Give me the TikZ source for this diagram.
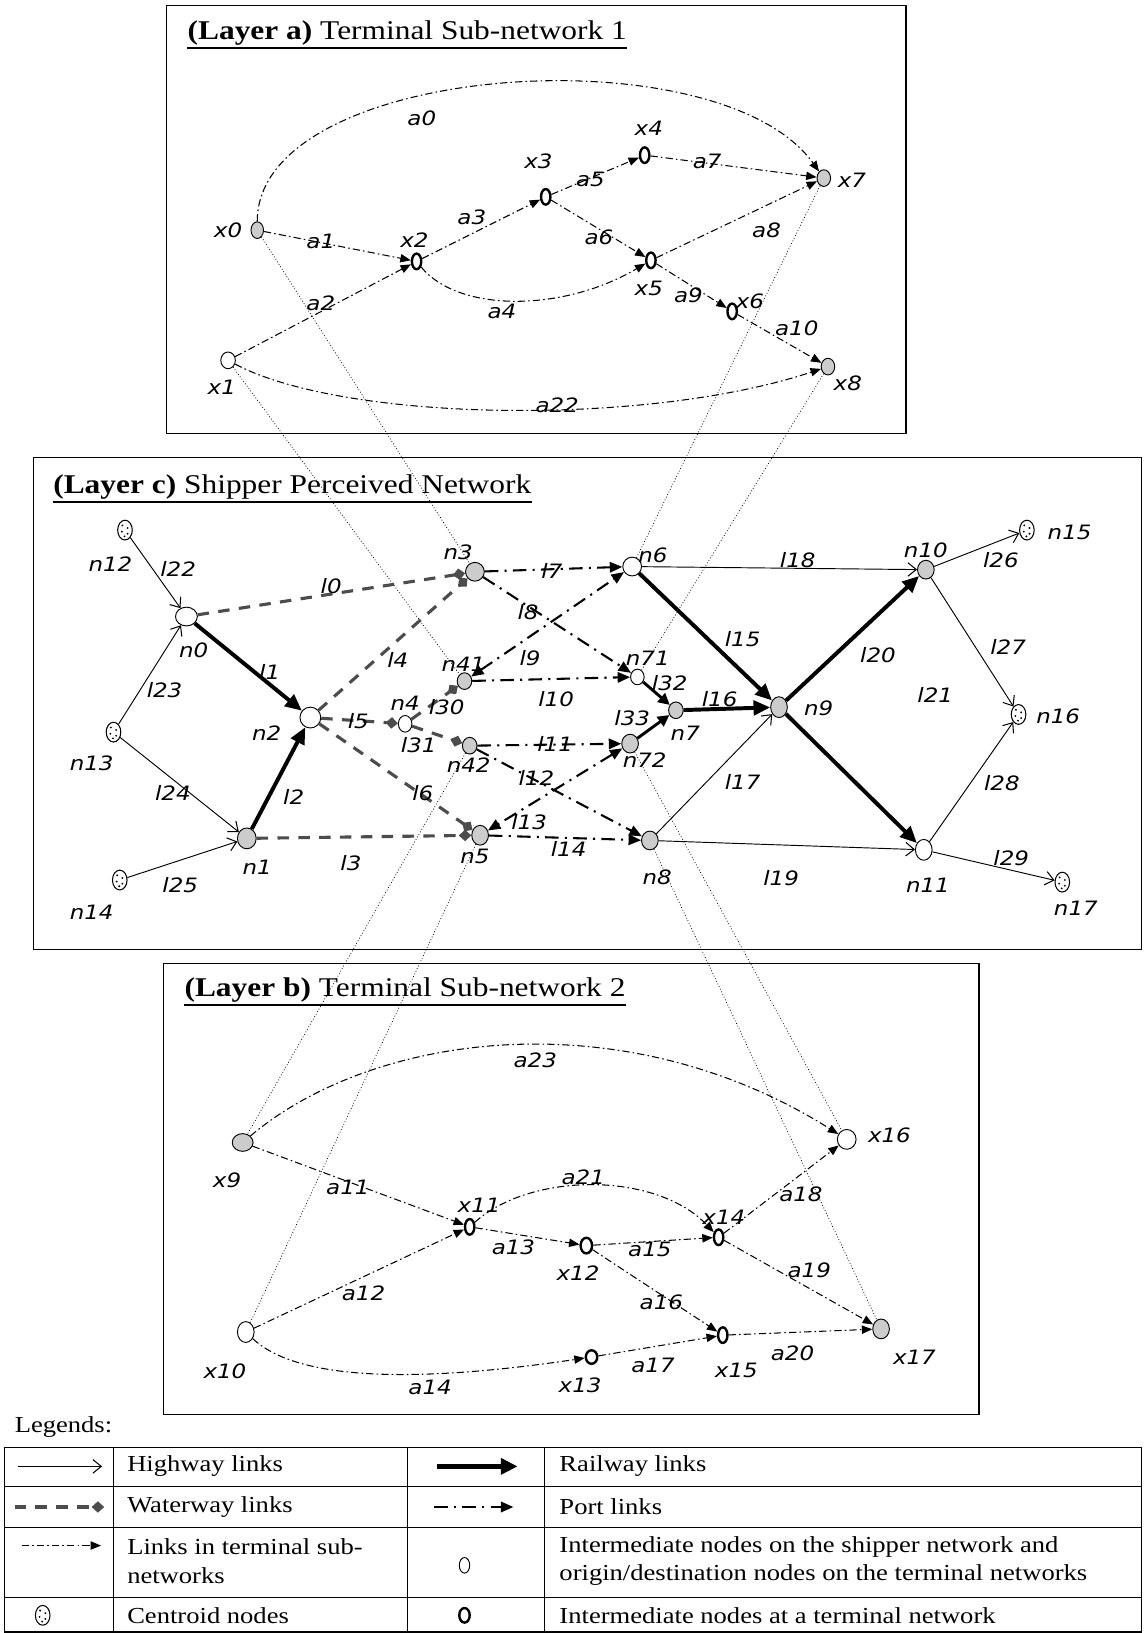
\documentclass[tikz,border=0pt]{standalone}
\usepackage{fontspec}
\setmainfont{Liberation Serif}[FakeStretch=1.16]
\newfontfamily\labfont{DejaVu Sans}[FakeStretch=1.16]
\usetikzlibrary{arrows.meta,shapes.geometric}
\tikzset{
  box/.style={draw, line width=1.2pt},
  wnode/.style={ellipse, draw, line width=0.9pt, fill=white, inner sep=0pt, minimum width=17pt, minimum height=18pt},
  gnode/.style={wnode, fill=black!20},
  tnode/.style={ellipse, draw, line width=2.3pt, fill=white, inner sep=0pt, minimum width=9pt, minimum height=15pt},
  cnode/.style={ellipse, draw, line width=1pt, fill=white, inner sep=0pt, minimum width=14pt, minimum height=19pt,
    path picture={
      \fill[black] (path picture bounding box.center) ++(-2.5,-4.5) circle (1pt);
      \fill[black] (path picture bounding box.center) ++(2.5,-2) circle (1pt);
      \fill[black] (path picture bounding box.center) ++(-3,1.5) circle (1pt);
      \fill[black] (path picture bounding box.center) ++(2.5,3.5) circle (1pt);
      \fill[black] (path picture bounding box.center) ++(-0.5,6) circle (1pt);
    }},
  lab/.style={font=\labfont\itshape\fontsize{19}{22}\selectfont, inner sep=0pt},
  ttl/.style={font=\fontsize{26}{30}\selectfont, inner sep=0pt, anchor=base west},
  legtxt/.style={font=\fontsize{22}{27}\selectfont, inner sep=0pt, anchor=west, align=left},
  uline/.style={line width=1.5pt},
  hw/.style={line width=0.9pt, -{Straight Barb[length=8pt,width=13pt,line width=1pt]}},
  rail/.style={line width=3.8pt, -{Triangle[length=16pt,width=14pt]}},
  railb/.style={line width=2.8pt, -{Triangle[length=11pt,width=11pt]}},
  water/.style={line width=3pt, black!70, dash pattern=on 11pt off 9pt, -{Diamond[length=12pt,width=11pt]}},
  port/.style={line width=2pt, dash pattern=on 13pt off 6pt on 2pt off 6pt, -{Triangle[length=12pt,width=10pt]}},
  portboth/.style={line width=2pt, dash pattern=on 13pt off 6pt on 2pt off 6pt,
    {Triangle[length=12pt,width=10pt]}-{Triangle[length=12pt,width=10pt]}},
  term/.style={line width=1pt, dash pattern=on 7pt off 3pt on 1.5pt off 3pt, -{Triangle[length=10pt,width=8pt]}},
  xlink/.style={line width=0.7pt, dash pattern=on 0.8pt off 2pt},
  gridline/.style={line width=1pt},
}
\begin{document}
\begin{tikzpicture}[x=1pt,y=-1pt]
\useasboundingbox (0,0) rectangle (1098,1568);

% ---------- boxes ----------
\draw[box] (160,5) rectangle (870,416);
\draw[box] (32,439) rectangle (1096,912);
\draw[box] (157,925) rectangle (940,1358);

% ---------- titles ----------
\node[ttl] (ta) at (180,38) {\textbf{(Layer a)} Terminal Sub-network 1};
\draw[uline] ([yshift=-8pt]ta.base west) -- ([yshift=-8pt]ta.base east);
\node[ttl] (tc) at (51,474) {\textbf{(Layer c)} Shipper Perceived Network};
\draw[uline] ([yshift=-8pt]tc.base west) -- ([yshift=-8pt]tc.base east);
\node[ttl] (tb) at (177,957) {\textbf{(Layer b)} Terminal Sub-network 2};
\draw[uline] ([yshift=-8pt]tb.base west) -- ([yshift=-8pt]tb.base east);

% ---------- layer a nodes ----------
\node[gnode, minimum width=12pt, minimum height=16pt] (x0) at (247,221) {};
\node[wnode, minimum width=14pt, minimum height=16pt] (x1) at (219,346) {};
\node[tnode] (x2) at (400,251) {};
\node[tnode] (x3) at (524,189) {};
\node[tnode] (x4) at (619,149) {};
\node[tnode] (x5) at (625,250) {};
\node[tnode] (x6) at (703,299) {};
\node[gnode, minimum width=13pt, minimum height=16pt] (x7) at (791,171) {};
\node[gnode, minimum width=13pt, minimum height=16pt] (x8) at (795,352) {};

% ---------- layer c nodes ----------
\node[cnode] (n12) at (120,509) {};
\node[wnode, minimum width=21pt, minimum height=18pt] (n0) at (179,592) {};
\node[cnode] (n13) at (109,703) {};
\node[wnode, minimum width=20pt, minimum height=20pt] (n2) at (298,689) {};
\node[gnode, minimum width=18pt, minimum height=20pt] (n1) at (237,805) {};
\node[cnode] (n14) at (115,845) {};
\node[gnode, minimum width=18pt, minimum height=18pt] (n3) at (456,549) {};
\node[wnode, minimum width=13pt, minimum height=16pt] (n4) at (389,695) {};
\node[gnode, minimum width=14pt, minimum height=16pt] (n41) at (446,654) {};
\node[gnode, minimum width=14pt, minimum height=16pt] (n42) at (451,716) {};
\node[gnode, minimum width=16pt, minimum height=19pt] (n5) at (461,802) {};
\node[wnode, minimum width=18pt, minimum height=18pt] (n6) at (607,544) {};
\node[wnode, minimum width=13pt, minimum height=15pt] (n71) at (612,650) {};
\node[gnode, minimum width=14pt, minimum height=16pt] (n7) at (649,682) {};
\node[gnode, minimum width=16pt, minimum height=18pt] (n72) at (605,714) {};
\node[gnode, minimum width=16pt, minimum height=18pt] (n8) at (624,807) {};
\node[gnode, minimum width=16pt, minimum height=20pt] (n9) at (748,679) {};
\node[gnode, minimum width=16pt, minimum height=18pt] (n10) at (889,547) {};
\node[wnode, minimum width=16pt, minimum height=20pt] (n11) at (887,816) {};
\node[cnode] (n15) at (986,509) {};
\node[cnode] (n16) at (978,686) {};
\node[cnode] (n17) at (1020,847) {};

% ---------- layer b nodes ----------
\node[gnode, minimum width=20pt, minimum height=17pt] (x9) at (233,1097) {};
\node[wnode, minimum width=16pt, minimum height=20pt] (x10) at (236,1279) {};
\node[tnode] (x11) at (451,1178) {};
\node[tnode, minimum width=11pt] (x12) at (563,1196) {};
\node[tnode, minimum width=11pt, minimum height=13pt] (x13) at (568,1303) {};
\node[tnode] (x14) at (690,1188) {};
\node[tnode] (x15) at (694,1282) {};
\node[wnode, minimum width=18pt, minimum height=19pt] (x16) at (813,1094) {};
\node[gnode, minimum width=16pt, minimum height=19pt] (x17) at (846,1276) {};

% ---------- inter-layer links ----------
\draw[xlink] (x0) -- (n3);
\draw[xlink] (x1) -- (n41);
\draw[xlink] (x7) -- (n6);
\draw[xlink] (x8) -- (n71);
\draw[xlink] (n42) -- (x9);
\draw[xlink] (n5) -- (x10);
\draw[xlink] (n72) -- (x16);
\draw[xlink] (n8) -- (x17);

% ---------- layer a links ----------
\draw[term] (x0) .. controls (247,60) and (690,30) .. (x7);
\draw[term] (x0) -- (x2);
\draw[term] (x1) -- (x2);
\draw[term] (x2) -- (x3);
\draw[term] (x2) .. controls (440,300) and (540,300) .. (x5);
\draw[term] (x3) -- (x4);
\draw[term] (x3) -- (x5);
\draw[term] (x4) -- (x7);
\draw[term] (x5) -- (x7);
\draw[term] (x5) -- (x6);
\draw[term] (x6) -- (x8);
\draw[term] (x1) .. controls (330,405) and (620,410) .. (x8);

% ---------- layer c links ----------
\draw[hw] (n12) -- (n0);
\draw[hw] (n13) -- (n0);
\draw[hw] (n13) -- (n1);
\draw[hw] (n14) -- (n1);
\draw[hw] (n6) -- (n10);
\draw[hw] (n8) -- (n9);
\draw[hw] (n8) -- (n11);
\draw[hw] (n10) -- (n15);
\draw[hw] (n10) -- (n16);
\draw[hw] (n11) -- (n16);
\draw[hw] (n11) -- (n17);
\draw[rail] (n0) -- (n2);
\draw[rail] (n1) -- (n2);
\draw[rail] (n6) -- (n9);
\draw[rail] (n7) -- (n9);
\draw[railb] (n71) -- (n7);
\draw[railb] (n72) -- (n7);
\draw[rail] (n9) -- (n10);
\draw[rail] (n9) -- (n11);
\draw[water] (n0) -- (n3);
\draw[water] (n2) -- (n3);
\draw[water] (n2) -- (n4);
\draw[water] (n2) -- (n5);
\draw[water] (n1) -- (n5);
\draw[water] (n4) -- (n41);
\draw[water] (n4) -- (n42);
\draw[port] (n3) -- (n6);
\draw[port] (n3) -- (n71);
\draw[port] (n41) -- (n71);
\draw[port] (n42) -- (n72);
\draw[port] (n42) -- (n8);
\draw[port] (n5) -- (n8);
\draw[portboth] (n41) -- (n6);
\draw[portboth] (n72) -- (n5);

% ---------- layer b links ----------
\draw[term] (x9) .. controls (360,990) and (600,960) .. (x16);
\draw[term] (x9) -- (x11);
\draw[term] (x10) -- (x11);
\draw[term] (x11) -- (x12);
\draw[term] (x10) .. controls (290,1330) and (420,1325) .. (x13);
\draw[term] (x12) -- (x14);
\draw[term] (x12) -- (x15);
\draw[term] (x13) -- (x15);
\draw[term] (x14) -- (x16);
\draw[term] (x14) -- (x17);
\draw[term] (x15) -- (x17);
\draw[term] (x11) .. controls (510,1125) and (630,1125) .. (x14);

% ---------- layer a labels ----------
\node[lab] (la0) at (405,114) {a0};
\node[lab] (lx4) at (623,123) {x4};
\node[lab] (lx3) at (517,155) {x3};
\node[lab] (la7) at (679,155) {a7};
\node[lab] (la5) at (567,172) {a5};
\node[lab] (lx7) at (818,173) {x7};
\node[lab] (la3) at (453,209) {a3};
\node[lab] (lx0) at (219,221) {x0};
\node[lab] (la6) at (575,228) {a6};
\node[lab] (la8) at (736,221) {a8};
\node[lab] (la1) at (308,232) {a1};
\node[lab] (lx2) at (398,231) {x2};
\node[lab] (lx5) at (623,277) {x5};
\node[lab] (la9) at (661,284) {a9};
\node[lab] (lx6) at (720,289) {x6};
\node[lab] (la2) at (308,291) {a2};
\node[lab] (la4) at (482,299) {a4};
\node[lab] (la10) at (765,315) {a10};
\node[lab] (lx1) at (213,372) {x1};
\node[lab] (lx8) at (814,368) {x8};
\node[lab] (la22) at (535,389) {a22};

% ---------- layer c labels ----------
\node[lab] (ln12) at (106,542) {n12};
\node[lab] (ll22) at (171,546) {l22};
\node[lab] (ln0) at (186,624) {n0};
\node[lab] (ll0) at (318,563) {l0};
\node[lab] (ln3) at (440,530) {n3};
\node[lab] (ll7) at (530,548) {l7};
\node[lab] (ln6) at (627,533) {n6};
\node[lab] (ll18) at (766,538) {l18};
\node[lab] (ln10) at (889,528) {n10};
\node[lab] (ll26) at (961,538) {l26};
\node[lab] (ln15) at (1027,511) {n15};
\node[lab] (ll8) at (507,588) {l8};
\node[lab] (ll15) at (713,614) {l15};
\node[lab] (ll27) at (968,621) {l27};
\node[lab] (ll20) at (843,629) {l20};
\node[lab] (ll1) at (259,645) {l1};
\node[lab] (ll4) at (382,634) {l4};
\node[lab] (ll9) at (509,632) {l9};
\node[lab] (ln41) at (445,638) {n41};
\node[lab] (ln71) at (622,632) {n71};
\node[lab] (ll32) at (643,656) {l32};
\node[lab] (ll23) at (158,663) {l23};
\node[lab] (ll10) at (534,671) {l10};
\node[lab] (ll16) at (691,671) {l16};
\node[lab] (ll30) at (429,679) {l30};
\node[lab] (ln4) at (389,675) {n4};
\node[lab] (ll5) at (344,692) {l5};
\node[lab] (ll21) at (898,667) {l21};
\node[lab] (ln9) at (786,680) {n9};
\node[lab] (ln16) at (1016,688) {n16};
\node[lab] (ln2) at (256,704) {n2};
\node[lab] (ln13) at (88,733) {n13};
\node[lab] (ll33) at (607,690) {l33};
\node[lab] (ln7) at (658,704) {n7};
\node[lab] (ll31) at (402,715) {l31};
\node[lab] (ll11) at (533,714) {l11};
\node[lab] (ln72) at (619,730) {n72};
\node[lab] (ln42) at (450,735) {n42};
\node[lab] (ll12) at (515,747) {l12};
\node[lab] (ll17) at (713,751) {l17};
\node[lab] (ll28) at (962,752) {l28};
\node[lab] (ll24) at (166,761) {l24};
\node[lab] (ll2) at (282,765) {l2};
\node[lab] (ll6) at (406,762) {l6};
\node[lab] (ll13) at (508,789) {l13};
\node[lab] (ll14) at (546,815) {l14};
\node[lab] (ln5) at (456,822) {n5};
\node[lab] (ll3) at (337,829) {l3};
\node[lab] (ln1) at (247,833) {n1};
\node[lab] (ln8) at (631,842) {n8};
\node[lab] (ll19) at (750,843) {l19};
\node[lab] (ln11) at (891,850) {n11};
\node[lab] (ll25) at (173,850) {l25};
\node[lab] (ll29) at (971,824) {l29};
\node[lab] (ln14) at (88,876) {n14};
\node[lab] (ln17) at (1033,872) {n17};

% ---------- layer b labels ----------
\node[lab] (la23) at (514,1018) {a23};
\node[lab] (lx16) at (854,1090) {x16};
\node[lab] (lx9) at (218,1133) {x9};
\node[lab] (la21) at (560,1130) {a21};
\node[lab] (la11) at (334,1140) {a11};
\node[lab] (la18) at (769,1147) {a18};
\node[lab] (lx11) at (460,1157) {x11};
\node[lab] (lx14) at (695,1169) {x14};
\node[lab] (la13) at (493,1198) {a13};
\node[lab] (la15) at (624,1200) {a15};
\node[lab] (lx12) at (555,1222) {x12};
\node[lab] (la19) at (777,1220) {a19};
\node[lab] (la12) at (349,1242) {a12};
\node[lab] (la16) at (635,1250) {a16};
\node[lab] (la20) at (761,1299) {a20};
\node[lab] (lx17) at (878,1303) {x17};
\node[lab] (la17) at (627,1311) {a17};
\node[lab] (lx10) at (216,1317) {x10};
\node[lab] (lx15) at (707,1316) {x15};
\node[lab] (la14) at (413,1332) {a14};
\node[lab] (lx13) at (557,1330) {x13};

% ---------- legend ----------
\node[legtxt] (lgd) at (14,1370) {Legends:};
\draw[gridline] (4,1390) rectangle (1096,1567);
\draw[gridline] (4,1427) -- (1096,1427);
\draw[gridline] (4,1467) -- (1096,1467);
\draw[gridline] (4,1534) -- (1096,1534);
\draw[gridline] (109,1390) -- (109,1567);
\draw[gridline] (391,1390) -- (391,1567);
\draw[gridline] (523,1390) -- (523,1567);

\coordinate (hwA) at (17,1408);  \coordinate (hwB) at (98,1408);
\coordinate (rlA) at (420,1408); \coordinate (rlB) at (497,1408);
\coordinate (wtA) at (14,1447);  \coordinate (wtB) at (100,1447);
\coordinate (ptA) at (417,1447); \coordinate (ptB) at (493,1447);
\coordinate (tmA) at (21,1484);  \coordinate (tmB) at (97,1484);
\draw[hw] (hwA) -- (hwB);
\draw[line width=4.5pt, -{Triangle[length=16pt,width=15pt]}] (rlA) -- (rlB);
\draw[water] (wtA) -- (wtB);
\draw[port] (ptA) -- (ptB);
\draw[term] (tmA) -- (tmB);
\node[wnode, minimum width=10pt, minimum height=15pt] (lgO) at (446,1503) {};
\node[cnode] (lgC) at (41,1551) {};
\node[tnode, minimum width=10pt, minimum height=14pt] (lgB) at (446,1551) {};

\node[legtxt] (t1) at (122,1408) {Highway links};
\node[legtxt] (t2) at (537,1408) {Railway links};
\node[legtxt] (t3) at (122,1447) {Waterway links};
\node[legtxt] (t4) at (537,1447) {Port links};
\node[legtxt] (t5) at (122,1499) {Links in terminal sub-\\networks};
\node[legtxt] (t6) at (537,1499) {Intermediate nodes on the shipper network and\\origin/destination nodes on the terminal networks};
\node[legtxt] (t7) at (122,1551) {Centroid nodes};
\node[legtxt] (t8) at (537,1551) {Intermediate nodes at a terminal network};
\end{tikzpicture}
\end{document}
